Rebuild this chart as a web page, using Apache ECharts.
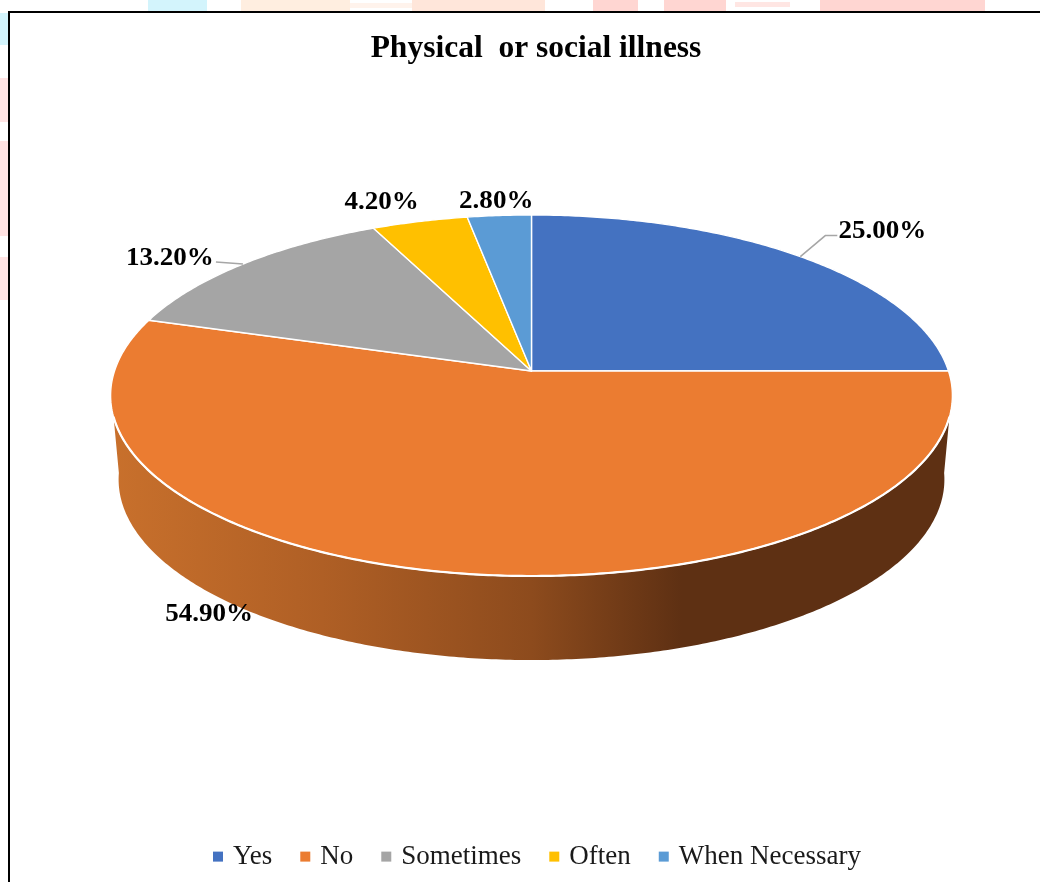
<!DOCTYPE html>
<html>
<head>
	<title>Physical or social illness</title>
	<script src="https://cdn.jsdelivr.net/npm/echarts@6/dist/echarts.min.js"></script>
	<style type="text/css">
		html, body { margin: 0; padding: 0; background: #ffffff; }
		#chartContainer { width: 1040px; height: 882px; }
	</style>
</head>
<body>
	<div id="chartContainer"></div>
	<script type="text/javascript">
		var categories = ['Yes', 'No', 'Sometimes', 'Often', 'When Necessary'];
		var values = [25.0, 54.9, 13.2, 4.2, 2.8];
		var colors = ['#4472C1', '#EB7C31', '#A5A5A5', '#FFC000', '#5B9BD5'];

		// label centre relative to the point on the rim at the slice's middle angle
		var labelOffsets = [[82, -25], [-250, 41], [-73, -6], [-38, -19], [-3, -14]];
		var leaderBends = [[[25, -21], [37, -21]], null, [[-27, -2]], null, null];

		// perspective of the pie top, measured on the picture
		var cx = 531.5, cy = 371, rx = 417, ry = 177.2, tilt = 0.1357;
		var depth = 84, bottomScale = 0.981;
		var serif = '"Liberation Serif", "Times New Roman", serif';

		var total = 0;
		for (var t = 0; t < values.length; t++) total += values[t];

		// angle is clockwise from 12 o'clock, in radians
		function project(angle) {
			var s = -Math.cos(angle);
			var d = 1 - tilt * s;
			return [cx + rx * Math.sin(angle) / d, cy + ry * s / d];
		}
		function arcPoints(from, to) {
			var pts = [];
			var n = Math.max(2, Math.ceil(Math.abs(to - from) / 0.01));
			for (var i = 0; i <= n; i++) pts.push(project(from + (to - from) * i / n));
			return pts;
		}
		function lowered(p) {
			return [cx + (p[0] - cx) * bottomScale, p[1] + depth];
		}
		function startOf(index) {
			var sum = 0;
			for (var i = 0; i < index; i++) sum += values[i];
			return sum / total * Math.PI * 2;
		}

		// front of the side wall: s = 0.25 on the top rim, s = 0.1 on the lower rim
		var wallTopAngle = Math.acos(-0.25), wallLowAngle = Math.acos(-0.1);
		function wallShape() {
			var top = arcPoints(wallTopAngle, Math.PI * 2 - wallTopAngle);
			var low = arcPoints(wallLowAngle, Math.PI * 2 - wallLowAngle).map(lowered).reverse();
			return top.concat(low);
		}

		function renderSlice(params, api) {
			var index = params.seriesIndex;
			var start = startOf(index);
			var end = start + api.value(0) / total * Math.PI * 2;
			var mid = (start + end) / 2;
			var hasWall = categories[index] === 'No';
			var children = [];
			if (hasWall) {
				children.push({
					type: 'polygon',
					shape: { points: wallShape() },
					style: {
						fill: new echarts.graphic.LinearGradient(0, 0, 1, 0, [
							{ offset: 0, color: '#C8702C' },
							{ offset: 0.25, color: '#AF5F25' },
							{ offset: 0.5, color: '#8D4B1D' },
							{ offset: 0.68, color: '#5E3013' },
							{ offset: 1, color: '#5E3013' }
						])
					}
				});
			}
			children.push({
				type: 'polygon',
				shape: { points: [[cx, cy]].concat(arcPoints(start, end)) },
				style: { fill: colors[index], stroke: '#ffffff', lineWidth: 1.4, lineJoin: 'round' }
			});
			if (hasWall) {
				children.push({
					type: 'polyline',
					shape: { points: arcPoints(wallTopAngle, Math.PI * 2 - wallTopAngle) },
					style: { fill: null, stroke: '#ffffff', lineWidth: 2.2 }
				});
			}
			var anchor = project(mid);
			if (leaderBends[index]) {
				var line = [anchor];
				leaderBends[index].forEach(function (b) {
					line.push([anchor[0] + b[0], anchor[1] + b[1]]);
				});
				children.push({
					type: 'polyline',
					shape: { points: line },
					style: { fill: null, stroke: '#A6A6A6', lineWidth: 1.5 }
				});
			}
			children.push({
				type: 'text',
				x: anchor[0] + labelOffsets[index][0],
				y: anchor[1] + labelOffsets[index][1],
				scaleX: 1.04,
				style: {
					x: 0, y: 0,
					text: api.value(0).toFixed(2) + '%',
					font: 'bold 26px ' + serif,
					fill: '#000000',
					align: 'center',
					verticalAlign: 'middle'
				}
			});
			return { type: 'group', children: children };
		}

		function patch(x, y, w, h, color) {
			return { type: 'rect', z: -1, shape: { x: x, y: y, width: w, height: h }, style: { fill: color } };
		}

		var myChart = echarts.init(document.getElementById('chartContainer'));
		var seriesList = [];
		for (var k = 0; k < categories.length; k++) {
			seriesList.push({
				name: categories[k],
				type: 'custom',
				coordinateSystem: 'none',
				silent: true,
				itemStyle: { color: colors[k] },
				renderItem: renderSlice,
				data: [[values[k]]]
			});
		}
		myChart.setOption({
			animation: false,
			backgroundColor: '#ffffff',
			title: {
				text: 'Physical  or social illness',
				left: 531,
				textAlign: 'center',
				top: 19,
				textStyle: { fontFamily: serif, fontWeight: 'bold', fontSize: 31.5, color: '#000000' }
			},
			legend: {
				data: categories,
				left: 208,
				top: 831,
				icon: 'rect',
				itemWidth: 10,
				itemHeight: 10,
				itemGap: 28,
				textStyle: { fontFamily: serif, fontSize: 27, color: '#1a1a1a', padding: [0, 0, 0, 5] }
			},
			graphic: [
				// bits of the page behind the chart
				patch(0, 13, 8, 32, '#D3F4FC'),
				patch(148, 0, 59, 11, '#D3F4FC'),
				patch(241, 0, 109, 11, '#FFEEE0'),
				patch(350, 3, 62, 5, '#FFF3EC'),
				patch(412, 0, 133, 11, '#FFE6DA'),
				patch(593, 0, 45, 11, '#FFD6D2'),
				patch(664, 0, 62, 11, '#FFD6D2'),
				patch(735, 2, 55, 5, '#FFE6E3'),
				patch(820, 0, 165, 11, '#FFD6D2'),
				patch(0, 78, 8, 44, '#FFE3E3'),
				patch(0, 141, 8, 95, '#FFE3E3'),
				patch(0, 257, 8, 43, '#FFE3E3'),
				// chart frame, left and top only
				patch(8, 11, 2, 871, '#000000'),
				patch(8, 11, 1032, 2, '#000000')
			],
			series: seriesList
		});
	</script>
</body>
</html>
